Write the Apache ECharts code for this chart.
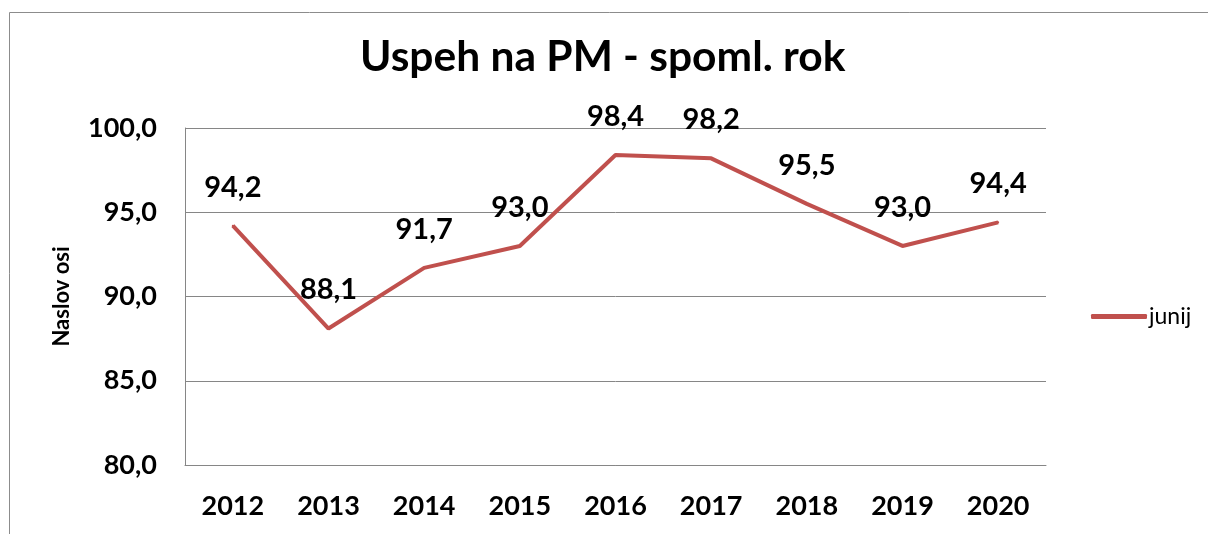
<!DOCTYPE html>
<html>
<head>
<meta charset="utf-8">
<script src="https://cdn.jsdelivr.net/npm/echarts@6/dist/echarts.min.js"></script>
<style>
html,body{margin:0;padding:0;background:#fff;}
#chart{width:1208px;height:534px;}
</style>
</head>
<body>
<div id="chart"></div>
<script>
const titleText = 'Uspeh na PM - spoml. rok';
const categories = ['2012','2013','2014','2015','2016','2017','2018','2019','2020'];
const seriesName = 'junij';
const values = [94.2, 88.1, 91.7, 93.0, 98.4, 98.2, 95.5, 93.0, 94.4];
const yAxisName = 'Naslov osi';
const yMin = 80, yMax = 100, yStep = 5;

const FONT = 'Lato';
const fmt = v => Number(v).toFixed(1).replace('.', ',');

const chart = echarts.init(document.getElementById('chart'), null, {renderer:'canvas'});
chart.setOption({
  backgroundColor: '#ffffff',
  animation: false,
  title: {
    text: titleText,
    left: 355,
    top: 31,
    textStyle: {fontFamily: FONT, fontWeight: 'bold', fontSize: 42.5, color: '#000'}
  },
  graphic: [{
    type: 'rect',
    shape: {x: 9.5, y: 12.5, width: 1400, height: 800},
    style: {fill: 'none', stroke: '#8c8c8c', lineWidth: 1},
    silent: true
  }],
  legend: {
    data: [seriesName],
    left: 1086,
    top: 300,
    icon: 'roundRect',
    itemWidth: 56,
    itemHeight: 5,
    itemGap: 10,
    textStyle: {fontFamily: FONT, fontSize: 23, color: '#000', padding: [0,0,0,-3]}
  },
  grid: {left: 185, right: 162, top: 128, bottom: 69, containLabel: false},
  xAxis: {
    type: 'category',
    data: categories,
    boundaryGap: true,
    axisLine: {show: true, lineStyle: {color: '#868686', width: 1}},
    axisTick: {show: false},
    axisLabel: {margin: 28, fontFamily: FONT, fontWeight: 'bold', fontSize: 27, color: '#000'},
    splitLine: {show: false}
  },
  yAxis: {
    type: 'value',
    min: yMin, max: yMax, interval: yStep,
    name: yAxisName,
    nameLocation: 'middle',
    nameGap: 112,
    nameRotate: 90,
    nameTextStyle: {fontFamily: FONT, fontWeight: 'bold', fontSize: 22, color: '#000'},
    axisLine: {show: true, lineStyle: {color: '#868686', width: 1}},
    axisTick: {show: false},
    axisLabel: {margin: 28, fontFamily: FONT, fontWeight: 'bold', fontSize: 27, color: '#000', formatter: fmt},
    splitLine: {show: true, lineStyle: {color: '#868686', width: 1}}
  },
  series: [{
    name: seriesName,
    type: 'line',
    data: values,
    symbol: 'circle',
    symbolSize: 2,
    showSymbol: true,
    smooth: false,
    lineStyle: {color: '#C0504D', width: 4},
    itemStyle: {color: '#C0504D'},
    label: {
      show: true,
      position: 'top',
      distance: 23,
      fontFamily: FONT, fontWeight: 'bold', fontSize: 29, color: '#000',
      formatter: p => fmt(p.value)
    }
  }]
});
</script>
</body>
</html>
